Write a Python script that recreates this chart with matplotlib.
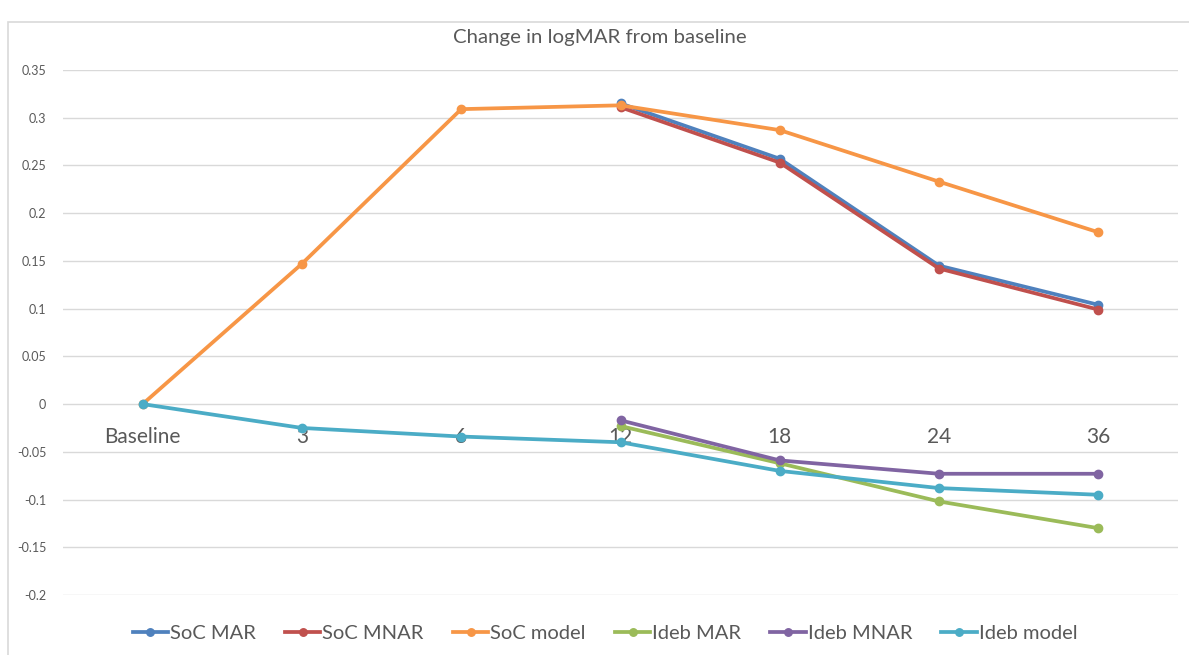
import numpy as np
import matplotlib
matplotlib.use("Agg")
import matplotlib.pyplot as plt
from matplotlib.patches import Rectangle

plt.rcParams['font.family'] = ['Lato', 'DejaVu Sans']

# months from baseline
categories = ['Baseline', '3', '6', '12', '18', '24', '36']
nan = np.nan

soc_mar = [nan, nan, nan, 0.315, 0.257, 0.145, 0.104]
soc_mnar = [nan, nan, nan, 0.311, 0.253, 0.142, 0.099]
soc_model = [0.0, 0.147, 0.309, 0.313, 0.287, 0.233, 0.180]
ideb_mar = [nan, nan, nan, -0.023, -0.062, -0.102, -0.130]
ideb_mnar = [nan, nan, nan, -0.017, -0.059, -0.073, -0.073]
ideb_model = [0.0, -0.025, -0.034, -0.040, -0.070, -0.088, -0.095]

series = [
    ('SoC MAR', soc_mar, '#4F81BD'),
    ('SoC MNAR', soc_mnar, '#C0504D'),
    ('SoC model', soc_model, '#F79646'),
    ('Ideb MAR', ideb_mar, '#9BBB59'),
    ('Ideb MNAR', ideb_mnar, '#8064A2'),
    ('Ideb model', ideb_model, '#4BACC6'),
]

fig = plt.figure(figsize=(11.89, 6.55), dpi=100)
ax = fig.add_axes([63 / 1189, 1 - 595 / 655, (1178 - 63) / 1189, 525 / 655])

# chart area border (left + top visible)
fig.patches.append(Rectangle((8 / 1189, -0.1), 1.2, 1 - 22 / 655 + 0.1,
                             transform=fig.transFigure, fill=False,
                             edgecolor='#D9D9D9', linewidth=1.2))

x = np.arange(len(categories))
for name, vals, col in series:
    ax.plot(x, vals, color=col, linewidth=2.7, marker='o', markersize=6,
            label=name, clip_on=False)

ax.set_xlim(-0.5, len(categories) - 0.5)
ax.set_ylim(-0.2, 0.35)
ax.set_yticks(np.arange(-0.2, 0.351, 0.05))
ax.set_yticklabels(['-0.2', '-0.15', '-0.1', '-0.05', '0', '0.05', '0.1',
                    '0.15', '0.2', '0.25', '0.3', '0.35'])
ax.tick_params(axis='y', length=0, pad=12, labelsize=9, labelcolor='#595959')
ax.grid(axis='y', color='#D9D9D9', linewidth=1)
ax.set_axisbelow(True)
for s in ['top', 'right', 'left']:
    ax.spines[s].set_visible(False)

# category labels sit next to the zero line
ax.spines['bottom'].set_position(('data', 0))
ax.spines['bottom'].set_visible(False)
ax.set_xticks(x)
ax.set_xticklabels(categories)
ax.tick_params(axis='x', length=0, pad=16.5, labelsize=15, labelcolor='#595959')

fig.text(600 / 1189, 1 - 38 / 655, 'Change in logMAR from baseline',
         ha='center', va='center', fontsize=14.7, color='#595959')

fig.legend(loc='center', bbox_to_anchor=(605 / 1189, 1 - 633 / 655), ncol=6,
           frameon=False, fontsize=14.5, labelcolor='#595959',
           handlelength=1.75, handletextpad=0.1, columnspacing=1.45,
           markerscale=0.9)

fig.savefig('out.png', dpi=100, facecolor='white')
